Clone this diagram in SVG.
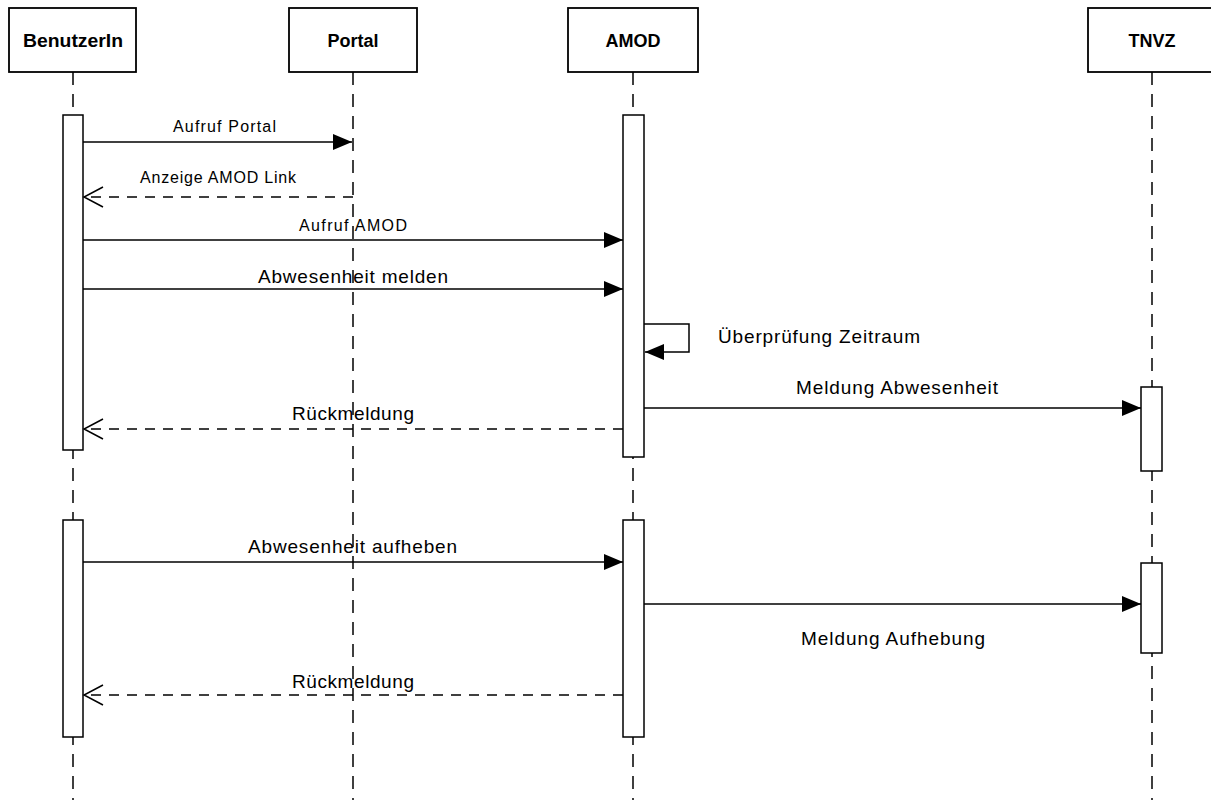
<svg xmlns="http://www.w3.org/2000/svg" width="1211" height="803" viewBox="0 0 1211 803">
<style>
.box{fill:#fff;stroke:#000;stroke-width:1.8}
.bar{fill:#fff;stroke:#000;stroke-width:1.5}
.life{stroke:#000;stroke-width:1.5;stroke-dasharray:13 9;fill:none}
.msg{stroke:#000;stroke-width:1.5;fill:none}
.ret{stroke:#000;stroke-width:1.5;fill:none;stroke-dasharray:10 8}
.hdr{font-family:"Liberation Sans",Arial,sans-serif;font-weight:bold;font-size:18px;text-anchor:middle;fill:#000}
.sm{font-family:"Liberation Sans",Arial,sans-serif;font-size:16px;fill:#000}
.lg{font-family:"Liberation Sans",Arial,sans-serif;font-size:19px;fill:#000}
</style>
<defs>
<marker id="filled" markerUnits="userSpaceOnUse" markerWidth="20" markerHeight="18" refX="19" refY="8" orient="auto">
<path d="M0,0 L19,8 L0,16 Z" fill="#000"/>
</marker>
<marker id="open" markerUnits="userSpaceOnUse" markerWidth="22" markerHeight="24" refX="20" refY="11" orient="auto">
<path d="M1,1 L20,11 L1,21" fill="none" stroke="#000" stroke-width="1.5"/>
</marker>
</defs>

<g id="lifelines">
<line class="life" x1="73" y1="72" x2="73" y2="800"/>
<line class="life" x1="353" y1="72" x2="353" y2="800"/>
<line class="life" x1="633" y1="72" x2="633" y2="800"/>
<line class="life" x1="1152" y1="72" x2="1152" y2="800"/>
</g>

<g id="node-benutzerin">
<rect class="box" x="9" y="8" width="127" height="64"/>
<text class="hdr" x="73" y="47" textLength="100" lengthAdjust="spacingAndGlyphs">BenutzerIn</text>
<rect class="bar" x="63" y="115" width="20" height="335"/>
<rect class="bar" x="63" y="520" width="20" height="217"/>
</g>

<g id="node-portal">
<rect class="box" x="289" y="8" width="128" height="64"/>
<text class="hdr" x="353" y="47">Portal</text>
</g>

<g id="node-amod">
<rect class="box" x="568" y="8" width="130" height="64"/>
<text class="hdr" x="633" y="47">AMOD</text>
<rect class="bar" x="623" y="115" width="21" height="342"/>
<rect class="bar" x="623" y="520" width="21" height="217"/>
</g>

<g id="node-tnvz">
<rect class="box" x="1088" y="8" width="128" height="64"/>
<text class="hdr" x="1152" y="47">TNVZ</text>
<rect class="bar" x="1141" y="387" width="21" height="84"/>
<rect class="bar" x="1141" y="563" width="21" height="90"/>
</g>

<g id="connectors">
<line class="msg" x1="83" y1="142" x2="352" y2="142" marker-end="url(#filled)"/>
<line class="ret" x1="353" y1="197" x2="84" y2="197" marker-end="url(#open)"/>
<line class="msg" x1="83" y1="240" x2="623" y2="240" marker-end="url(#filled)"/>
<line class="msg" x1="83" y1="289" x2="623" y2="289" marker-end="url(#filled)"/>
<polyline class="msg" points="644,324 689,324 689,352 645,352" marker-end="url(#filled)"/>
<line class="msg" x1="644" y1="408" x2="1141" y2="408" marker-end="url(#filled)"/>
<line class="ret" x1="623" y1="429" x2="84" y2="429" marker-end="url(#open)"/>
<line class="msg" x1="83" y1="562" x2="623" y2="562" marker-end="url(#filled)"/>
<line class="msg" x1="644" y1="604" x2="1141" y2="604" marker-end="url(#filled)"/>
<line class="ret" x1="623" y1="695" x2="84" y2="695" marker-end="url(#open)"/>
</g>

<g id="labels">
<text class="sm" x="173" y="132" textLength="103" lengthAdjust="spacing">Aufruf Portal</text>
<text class="sm" x="140" y="183" textLength="156" lengthAdjust="spacing">Anzeige AMOD Link</text>
<text class="sm" x="299" y="231" textLength="108" lengthAdjust="spacing">Aufruf AMOD</text>
<text class="lg" x="258" y="283" textLength="190" lengthAdjust="spacing">Abwesenheit melden</text>
<text class="lg" x="718" y="343" textLength="202" lengthAdjust="spacing">Überprüfung Zeitraum</text>
<text class="lg" x="796" y="394" textLength="202" lengthAdjust="spacing">Meldung Abwesenheit</text>
<text class="lg" x="292" y="420" textLength="122" lengthAdjust="spacing">Rückmeldung</text>
<text class="lg" x="248" y="553" textLength="209" lengthAdjust="spacing">Abwesenheit aufheben</text>
<text class="lg" x="801" y="645" textLength="184" lengthAdjust="spacing">Meldung Aufhebung</text>
<text class="lg" x="292" y="688" textLength="122" lengthAdjust="spacing">Rückmeldung</text>
</g>
</svg>
